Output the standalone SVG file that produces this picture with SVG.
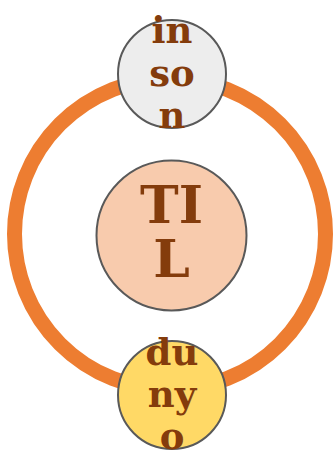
<svg xmlns="http://www.w3.org/2000/svg" width="333" height="451" viewBox="0 0 333 451">
  <style>
    .node { stroke: #595959; stroke-width: 2; }
    .label { font-family: "DejaVu Serif", "Liberation Serif", serif; font-weight: bold; fill: #843C0C; text-anchor: middle; }
    .small { font-size: 37px; }
    .big { font-size: 52px; }
    .ring { fill: none; stroke: #ED7D31; stroke-width: 15; }
  </style>
  <rect width="333" height="451" fill="#ffffff"/>
  <g id="connectors">
    <circle class="ring" cx="170" cy="234" r="155.5"/>
  </g>
  <g id="node-center">
    <circle class="node" cx="171.5" cy="235.5" r="75" fill="#F8CBAD"/>
    <text class="label big" x="171.5" y="222.5">TI</text>
    <text class="label big" x="171.5" y="277">L</text>
  </g>
  <g id="node-top">
    <circle class="node" cx="172" cy="74" r="54" fill="#EDEDED"/>
    <text class="label small" x="172" y="43">in</text>
    <text class="label small" x="172" y="86">so</text>
    <text class="label small" x="172" y="128">n</text>
  </g>
  <g id="node-bottom">
    <circle class="node" cx="172" cy="395" r="54" fill="#FFD966"/>
    <text class="label small" x="172" y="365">du</text>
    <text class="label small" x="172" y="407">ny</text>
    <text class="label small" x="172" y="449">o</text>
  </g>
</svg>
